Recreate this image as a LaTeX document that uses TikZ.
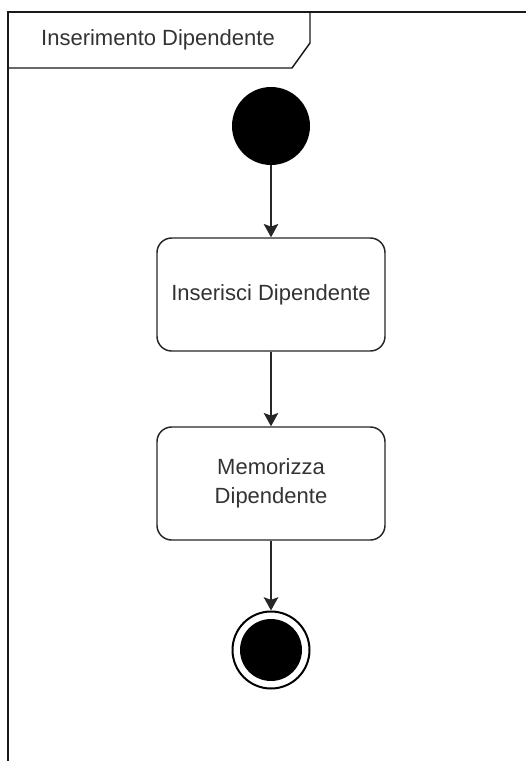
\documentclass[tikz,border=0pt]{standalone}
\usepackage{fontspec}
\setmainfont{Liberation Sans}
\usetikzlibrary{arrows.meta}
\begin{document}
\begin{tikzpicture}[x=0.75pt,y=-0.75pt,
  txt/.style={text=black!80,font=\fontsize{16.5pt}{20pt}\selectfont},
  action/.style={draw=black!85,line width=1.1pt,rounded corners=11pt,fill=white,
    minimum width=228*0.75pt,minimum height=113*0.75pt,align=center,inner sep=0pt,txt},
  startnode/.style={circle,fill=black,minimum size=78*0.75pt,inner sep=0pt},
  flow/.style={draw=black!85,line width=1pt,-{Stealth[length=10pt,width=11pt,inset=2pt]}}]
\useasboundingbox (0,0) rectangle (526,761);
% frame with its name tab
\draw[black!90,line width=1.1pt] (8,761) -- (8,12) -- (526,12);
\draw[black!90,line width=1.1pt] (310,12) -- (310,43) -- (292,68) -- (8,68);
\node[txt,anchor=center] (title) at (158,40) {Inserimento Dipendente};
% start
\node[startnode] (start) at (271,126) {};
% actions
\node[action] (ins) at (271,294.5) {Inserisci Dipendente};
\node[action] (mem) at (271,483.5) {Memorizza\\[2pt]Dipendente};
% end
\node[circle,draw=black,line width=1.5pt,minimum size=77*0.75pt,inner sep=0pt,fill=white] (end) at (271,650) {};
\node[circle,fill=black,minimum size=62*0.75pt,inner sep=0pt] (endin) at (end) {};
% flows
\draw[flow] (start) -- (ins);
\draw[flow] (ins) -- (mem);
\draw[flow] (mem) -- (end);
\end{tikzpicture}
\end{document}
